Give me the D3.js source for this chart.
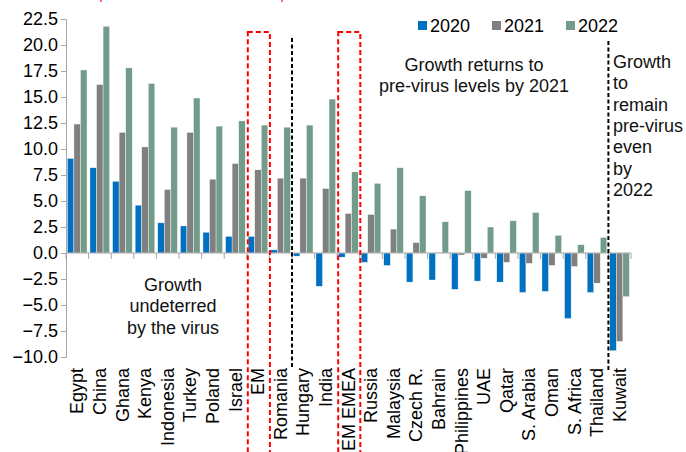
<!DOCTYPE html>
<html lang="en">

<head>
    <meta charset="UTF-8">
    <title>growth-bars</title>
    <script src="https://cdn.jsdelivr.net/npm/d3@7"></script>
    <style>
        body { margin: 0; background: #fff; }
        text { font-family: Arial, "Liberation Sans", sans-serif; }
    </style>
</head>

<body>
    <svg width="686" height="452" id="mainsvg"></svg>
    <script>
        // data
        const countries = ["Egypt", "China", "Ghana", "Kenya", "Indonesia", "Turkey", "Poland", "Israel", "EM", "Romania",
            "Hungary", "India", "EM EMEA", "Russia", "Malaysia", "Czech R.", "Bahrain", "Philippines", "UAE", "Qatar",
            "S. Arabia", "Oman", "S. Africa", "Thailand", "Kuwait"]
        const years = ["2020", "2021", "2022"]
        const g2020 = [9.1, 8.2, 6.9, 4.6, 2.9, 2.6, 2.0, 1.6, 1.6, 0.3, -0.3, -3.2, -0.4, -0.9, -1.2, -2.8, -2.6, -3.5, -2.7, -2.8, -3.8, -3.7, -6.3, -3.8, -9.4]
        const g2021 = [12.4, 16.2, 11.6, 10.2, 6.1, 11.6, 7.1, 8.6, 8.0, 7.2, 7.2, 6.2, 3.8, 3.7, 2.3, 1.0, 0.05, -0.2, -0.5, -0.9, -1.0, -1.2, -1.3, -2.9, -8.5]
        const g2022 = [17.6, 21.8, 17.8, 16.3, 12.1, 14.9, 12.2, 12.7, 12.3, 12.1, 12.3, 14.8, 7.8, 6.7, 8.2, 5.5, 3.0, 6.0, 2.5, 3.1, 3.9, 1.7, 0.8, 1.5, -4.2]
        const yTicks = [-10, -7.5, -5, -2.5, 0, 2.5, 5, 7.5, 10, 12.5, 15, 17.5, 20, 22.5]
        const boxed = ["EM", "EM EMEA"]
        const dividers = ["Hungary", "Kuwait"]
        const colors = ["#0070c0", "#808080", "#739b89"]

        const svg = d3.select('#mainsvg')
        const series = [g2020, g2021, g2022]
        const data = countries.map((c, i) => ({ name: c, vals: series.map(s => s[i]) }))

        const x = d3.scaleBand().domain(countries).range([66, 631])
        const bw = x.bandwidth()
        const x1 = d3.scaleBand().domain(years).range([bw * 0.06, bw * 0.93])
        const y = d3.scaleLinear().domain([-10, 22.5]).range([357, 19])
        const axisColor = '#a6a6a6'
        const fs = 18

        // bars
        const groups = svg.append('g').selectAll('g').data(data).join('g')
            .attr('transform', d => `translate(${x(d.name)},0)`)
        groups.selectAll('rect').data(d => d.vals.map((v, k) => ({ year: years[k], v: v, k: k }))).join('rect')
            .attr('x', d => x1(d.year))
            .attr('width', x1.bandwidth())
            .attr('y', d => y(Math.max(0, d.v)))
            .attr('height', d => Math.abs(y(d.v) - y(0)))
            .attr('fill', d => colors[d.k])
            .attr('stroke', '#ffffff')
            .attr('stroke-width', 0.4)

        // y axis
        const yAxis = d3.axisLeft(y).tickValues(yTicks).tickFormat(d3.format('.1f'))
            .tickSizeOuter(0).tickSize(5).tickPadding(3)
        const ya = svg.append('g').attr('transform', 'translate(66,0)').call(yAxis)
        ya.selectAll('path, line').attr('stroke', axisColor)
        ya.selectAll('text').attr('font-size', fs).attr('fill', '#000')
            .attr('font-family', 'Arial, "Liberation Sans", sans-serif')

        // x axis at zero with ticks at band edges
        const xa = svg.append('g')
        xa.append('line').attr('x1', x.range()[0]).attr('x2', x.range()[1])
            .attr('y1', y(0)).attr('y2', y(0)).attr('stroke', axisColor)
        xa.selectAll('.xt').data(countries.concat(['end'])).join('line').attr('class', 'xt')
            .attr('x1', (d, i) => x.range()[0] + i * bw).attr('x2', (d, i) => x.range()[0] + i * bw)
            .attr('y1', y(0)).attr('y2', y(0) + 6).attr('stroke', axisColor)

        // category labels
        svg.append('g').selectAll('text').data(countries).join('text')
            .attr('transform', d => `translate(${x(d) + bw / 2 + 6},368) rotate(-90)`)
            .attr('text-anchor', 'end')
            .attr('font-size', fs)
            .text(d => d)

        // red dashed boxes
        svg.append('g').selectAll('rect').data(boxed).join('rect')
            .attr('x', d => x(d) + 1).attr('y', 32)
            .attr('width', bw - 0.5).attr('height', 440)
            .attr('fill', 'none').attr('stroke', '#ff0000').attr('stroke-width', 2)
            .attr('stroke-dasharray', '5,3')

        // black dashed dividers
        svg.append('g').selectAll('line').data(dividers).join('line')
            .attr('x1', d => x(d)).attr('x2', d => x(d))
            .attr('y1', (d, i) => 38 + i * 3).attr('y2', (d, i) => 369 + i * 3)
            .attr('stroke', '#000').attr('stroke-width', 2).attr('stroke-dasharray', '4,2.5')

        // cut-off red marks at the very top
        svg.append('g').selectAll('line').data([101, 282]).join('line')
            .attr('x1', d => d).attr('x2', d => d).attr('y1', 0).attr('y2', 2)
            .attr('stroke', '#ff4040').attr('stroke-width', 1.5)

        // legend
        const lg = svg.append('g').selectAll('g').data(years).join('g')
            .attr('transform', (d, i) => `translate(${418 + i * 74},21)`)
        lg.append('rect').attr('width', 9).attr('height', 9).attr('fill', (d, i) => colors[i])
        lg.append('text').attr('x', 12).attr('y', 11).attr('font-size', fs).text(d => d)

        // annotations
        function block(lines, xPos, y0, anchor) {
            const t = svg.append('text').attr('text-anchor', anchor).attr('font-size', fs).attr('fill', '#111')
            lines.forEach((l, i) => t.append('tspan').attr('x', xPos).attr('y', y0 + i * 21.3).text(l))
        }
        block(["Growth returns to", "pre-virus levels by 2021"], 474, 71, 'middle')
        block(["Growth", "undeterred", "by the virus"], 173, 291, 'middle')
        block(["Growth", "to", "remain", "pre-virus", "even", "by", "2022"], 613, 68, 'start')
    </script>
</body>

</html>
